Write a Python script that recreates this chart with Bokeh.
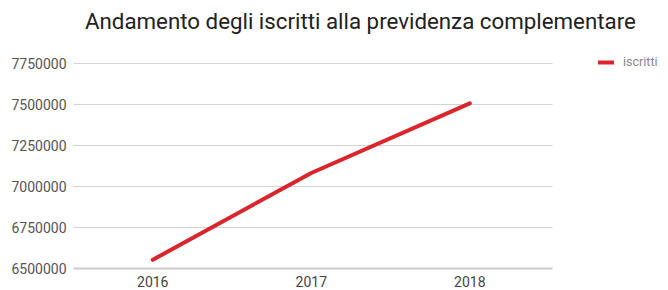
from bokeh.plotting import figure
from bokeh.models import Range1d, FixedTicker, NumeralTickFormatter, Legend, LegendItem, Div
from bokeh.layouts import column
from bokeh.embed import file_html
from bokeh.resources import INLINE

years = [2016, 2017, 2018]
iscritti = [6553000, 7082000, 7506000]
y_ticks = [6500000, 6750000, 7000000, 7250000, 7500000, 7750000]
title_text = "Andamento degli iscritti alla previdenza complementare"

x_start, x_end = years[0] - 0.5, years[-1] + 0.5

title = Div(text=title_text, width=660, height=25,
            styles={"font-family": "Roboto", "font-size": "22.3px", "color": "#222222",
                    "padding-left": "80px", "padding-top": "3px", "line-height": "normal",
                    "white-space": "nowrap"})

p = figure(width=660, height=254, output_backend="svg", toolbar_location=None,
           x_range=Range1d(x_start, x_end + 0.703),
           y_range=Range1d(6500000, 7828000),
           min_border_left=73, min_border_right=0, min_border_top=15, min_border_bottom=0)
p.outline_line_color = None
p.background_fill_color = "white"
p.border_fill_color = "white"

p.xgrid.grid_line_color = None
try:
    p.ygrid.cross_bounds = (x_start, x_end + 0.02)
    p.ygrid.grid_line_color = "#d3d3d3"
    p.ygrid.grid_line_width = 1
    p.ygrid.ticker = FixedTicker(ticks=y_ticks)
except Exception:
    p.ygrid.grid_line_color = None
    p.segment(x0=[x_start] * len(y_ticks), x1=[x_end] * len(y_ticks), y0=y_ticks, y1=y_ticks,
              line_color="#d3d3d3", line_width=1)

r = p.line(x=years, y=iscritti, line_color="#d9252b", line_width=4, line_cap="round")

p.yaxis.ticker = FixedTicker(ticks=y_ticks)
p.yaxis.formatter = NumeralTickFormatter(format="0")
p.yaxis.axis_line_color = None
p.yaxis.major_tick_line_color = None
p.yaxis.minor_tick_line_color = None
p.yaxis.major_tick_out = 0
p.yaxis.major_tick_in = 0
p.yaxis.major_label_standoff = 7
p.yaxis.major_label_text_font = "Roboto"
p.yaxis.major_label_text_font_size = "14px"
p.yaxis.major_label_text_color = "#555555"

p.xaxis.ticker = FixedTicker(ticks=years)
p.xaxis.bounds = (x_start, x_end + 0.02)
p.xaxis.axis_line_color = "#cccccc"
p.xaxis.axis_line_width = 2
p.xaxis.major_tick_line_color = None
p.xaxis.minor_tick_line_color = None
p.xaxis.major_tick_out = 0
p.xaxis.major_tick_in = 0
p.xaxis.major_label_standoff = 7
p.xaxis.major_label_text_font = "Roboto"
p.xaxis.major_label_text_font_size = "14px"
p.xaxis.major_label_text_color = "#444444"

legend = Legend(items=[LegendItem(label="iscritti", renderers=[r])],
                location=(525, 199), padding=0, margin=0, border_line_color=None,
                background_fill_alpha=0, label_text_font="Roboto", label_text_font_size="12.5px",
                label_text_color="#888888", glyph_width=16, glyph_height=12, label_standoff=9,
                label_height=14)
p.add_layout(legend, "center")

layout = column(title, p, spacing=0)
open("out.html", "w").write(file_html(layout, INLINE))
